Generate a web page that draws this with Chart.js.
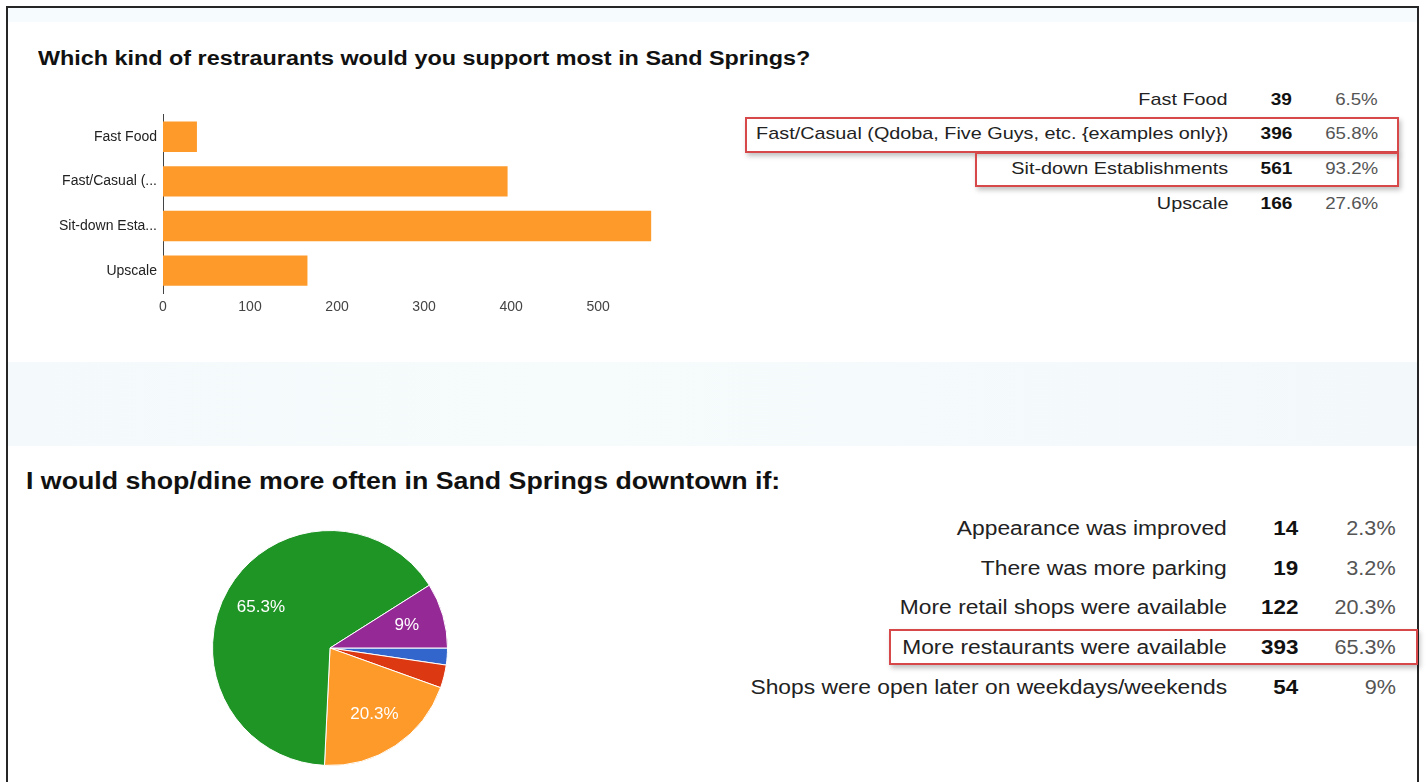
<!DOCTYPE html>
<html>
<head>
<meta charset="utf-8">
<script src="https://cdn.jsdelivr.net/npm/chart.js@4.4.1/dist/chart.umd.min.js"></script>
<style>
  html, body { margin: 0; padding: 0; background: #fff; width: 1426px; height: 782px; overflow: hidden; }
  body { position: relative; font-family: "Liberation Sans", Arial, sans-serif; color: #222; }
  #frame { position: absolute; left: 6px; top: 6px; width: 1409px; height: 800px; border: 2px solid #262626; border-bottom: none; }
  #topband { position: absolute; left: 8px; top: 8px; width: 1409px; height: 14px; background: #f6fcfd; }
  #band { position: absolute; left: 8px; top: 362px; width: 1409px; height: 84px;
          background: linear-gradient(90deg, #f4f9fb 0%, #f6fbfc 40%, #f3f8fb 100%); }
  .title { position: absolute; font-weight: bold; color: #111; white-space: nowrap; transform-origin: left center; }
  .cell { position: absolute; white-space: nowrap; text-align: right; transform-origin: right center; }
  .box { position: absolute; border: 2px solid #d7484b; box-shadow: 2px 3px 5px rgba(0,0,0,0.25); box-sizing: border-box; }
  canvas { position: absolute; }
</style>
</head>
<body>
<div id="topband"></div>
<div id="band"></div>
<div id="frame"></div>

<div class="title" style="left:38px; top:47px; font-size:20px; transform:scaleX(1.168);">Which kind of restraurants would you support most in Sand Springs?</div>
<div class="title" style="left:26px; top:468px; font-size:23px; transform:scaleX(1.162);">I would shop/dine more often in Sand Springs downtown if:</div>

<div class="box" style="left:745px; top:117px; width:654px; height:36px;"></div>
<div class="box" style="left:975px; top:152px; width:424px; height:35px;"></div>
<div class="box" style="left:889px; top:629px; width:529px; height:36px;"></div>

<div id="wrapBar"><canvas id="barChart" width="660" height="230" style="left:30px; top:100px; width:660px; height:230px;"></canvas></div>
<div id="wrapPie"><canvas id="pieChart" width="260" height="260" style="left:200px; top:518px; width:260px; height:260px;"></canvas></div>

<div id="tables"></div>

<script>
// ---- Data ----
const restaurantShort = ["Fast Food", "Fast/Casual (...", "Sit-down Esta...", "Upscale"];
const restaurantFull = ["Fast Food", "Fast/Casual (Qdoba, Five Guys, etc. {examples only})", "Sit-down Establishments", "Upscale"];
const restaurantCounts = [39, 396, 561, 166];
const restaurantPcts = ["6.5%", "65.8%", "93.2%", "27.6%"];

const downtownLabels = ["Appearance was improved", "There was more parking", "More retail shops were available", "More restaurants were available", "Shops were open later on weekdays/weekends"];
const downtownCounts = [14, 19, 122, 393, 54];
const downtownPcts = ["2.3%", "3.2%", "20.3%", "65.3%", "9%"];

const xTicks = [0, 100, 200, 300, 400, 500];

// ---- Tables (text) ----
const tables = document.getElementById('tables');
function addCell(text, rightEdge, centerY, size, bold, color, sx) {
  const d = document.createElement('div');
  d.className = 'cell';
  d.textContent = text;
  const lh = Math.round(size * 1.3);
  d.style.right = (1426 - rightEdge) + 'px';
  d.style.top = Math.round(centerY - lh / 2) + 'px';
  d.style.lineHeight = lh + 'px';
  d.style.fontSize = size + 'px';
  d.style.transform = 'scaleX(' + sx + ')';
  if (bold) d.style.fontWeight = 'bold';
  d.style.color = color;
  tables.appendChild(d);
}
const t1Y = [100, 134, 169, 204];
restaurantFull.forEach((l, i) => {
  addCell(l, 1228, t1Y[i], 17, false, '#222', 1.165);
  addCell(String(restaurantCounts[i]), 1292, t1Y[i], 17, true, '#111', 1.12);
  addCell(restaurantPcts[i], 1378, t1Y[i], 17, false, '#555', 1.1);
});
const t2Y = [528, 568, 607, 647, 687];
downtownLabels.forEach((l, i) => {
  addCell(l, 1227, t2Y[i], 20, false, '#222', 1.14);
  addCell(String(downtownCounts[i]), 1298, t2Y[i], 20, true, '#111', 1.12);
  addCell(downtownPcts[i], 1396, t2Y[i], 20, false, '#555', 1.08);
});

// ---- Bar chart ----
new Chart(document.getElementById('barChart'), {
  type: 'bar',
  data: {
    labels: restaurantShort,
    datasets: [{
      data: restaurantCounts,
      backgroundColor: '#fd9a2a',
      borderWidth: 0,
      categoryPercentage: 1.0,
      barPercentage: 0.68
    }]
  },
  options: {
    indexAxis: 'y',
    responsive: false,
    animation: false,
    layout: { padding: { top: 10, right: 31, bottom: 0, left: 0 } },
    plugins: { legend: { display: false }, tooltip: { enabled: false } },
    scales: {
      x: {
        min: 0, max: 570,
        grid: { display: false, drawTicks: false },
        border: { display: false },
        afterBuildTicks: (s) => { s.ticks = xTicks.map(v => ({ value: v })); },
        ticks: { color: '#444', font: { family: 'Liberation Sans', size: 14 }, padding: 6 },
        afterFit: (s) => { s.height = 37; }
      },
      y: {
        grid: { display: false, drawTicks: false },
        border: { display: true, color: '#444', width: 1 },
        ticks: { color: '#222', font: { family: 'Liberation Sans', size: 14 }, padding: 6 },
        afterFit: (s) => { s.width = 133; }
      }
    }
  }
});

// ---- Pie chart ----
const pieLabelPlugin = {
  id: 'pieLabels',
  afterDatasetsDraw(chart) {
    const ctx = chart.ctx;
    const meta = chart.getDatasetMeta(0);
    ctx.save();
    ctx.fillStyle = '#fff';
    ctx.font = '17px "Liberation Sans", Arial, sans-serif';
    ctx.textAlign = 'center';
    ctx.textBaseline = 'middle';
    meta.data.forEach((arc, i) => {
      const frac = (arc.endAngle - arc.startAngle) / (2 * Math.PI);
      if (frac < 0.05) return;
      const mid = (arc.startAngle + arc.endAngle) / 2;
      const r = arc.outerRadius * 0.68;
      ctx.fillText(downtownPcts[i], arc.x + Math.cos(mid) * r, arc.y + Math.sin(mid) * r);
    });
    ctx.restore();
  }
};

new Chart(document.getElementById('pieChart'), {
  type: 'pie',
  data: {
    labels: downtownLabels,
    datasets: [{
      data: downtownCounts,
      backgroundColor: ['#3366cc', '#dc3912', '#fd9a2a', '#1f9526', '#952a97'],
      borderColor: '#ffffff',
      borderWidth: 1
    }]
  },
  options: {
    responsive: false,
    animation: false,
    rotation: 90,
    layout: { padding: 12 },
    plugins: { legend: { display: false }, tooltip: { enabled: false } }
  },
  plugins: [pieLabelPlugin]
});
</script>
</body>
</html>
